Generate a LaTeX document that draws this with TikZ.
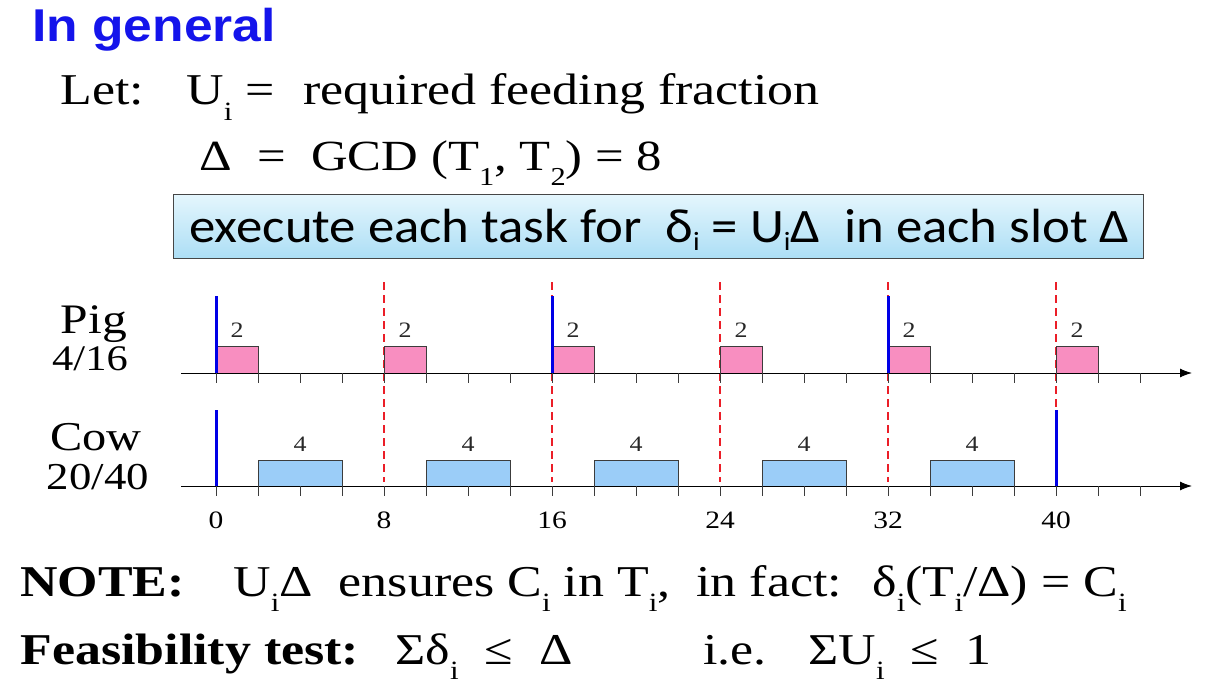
\documentclass[tikz,border=0pt]{standalone}
\usepackage{fontspec}
\setmainfont{Liberation Serif}[FakeStretch=1.18]
\newfontfamily\headfont{Liberation Sans}[FakeStretch=1.12]
\newfontfamily\boxfont{Carlito}[FakeStretch=1.1]
\usetikzlibrary{arrows.meta}
\tikzset{every picture/.style={line width=0.75pt}}
\newcommand{\lo}[1]{\raisebox{-0.36em}{\scalebox{0.6}{#1}}}
\newcommand{\blo}[1]{\raisebox{-0.18em}{\scalebox{0.55}{#1}}}

\begin{document}
\begin{tikzpicture}[x=1pt,y=1pt,yscale=-1,
  txt/.style={inner sep=0pt,anchor=base west},
  big/.style={font=\fontsize{44}{48}\selectfont},
  mid/.style={font=\fontsize{43}{47}\selectfont},
  small/.style={font=\fontsize{25}{28}\selectfont},
  tiny/.style={font=\fontsize{22}{24}\selectfont,color={rgb,255:red,40;green,40;blue,40}},
  rulebox/.style={draw={rgb,255:red,70;green,70;blue,70},line width=1.3pt,top color={rgb,255:red,228;green,246;blue,253},bottom color={rgb,255:red,172;green,222;blue,245}},
  pigslot/.style={draw={rgb,255:red,60;green,60;blue,60},line width=0.9pt,fill={rgb,255:red,248;green,142;blue,192}},
  cowslot/.style={draw={rgb,255:red,60;green,60;blue,60},line width=0.9pt,fill={rgb,255:red,155;green,205;blue,248}},
  release/.style={draw={rgb,255:red,0;green,0;blue,230},line width=3pt},
  frame/.style={draw={rgb,255:red,235;green,30;blue,40},line width=2.4pt,dash pattern=on 8pt off 5pt},
  axis/.style={draw=black,line width=1pt,-{Latex[length=12pt,width=9pt]}},
  tick/.style={draw={rgb,255:red,60;green,60;blue,60},line width=1pt}]
\useasboundingbox (0,0) rectangle (1217,698);

% Title and definitions
\node[txt,font=\headfont\bfseries\fontsize{46}{50}\selectfont,color={rgb,255:red,20;green,20;blue,235}] (head) at (32,42) {In general};
\node[txt,big] (let) at (60,105) {Let:};
\node[txt,big] (ui) at (186,105) {U\lo{i} =};
\node[txt,big] (req) at (303,105) {required feeding fraction};
\node[txt,mid] (gcd) at (199,170) {Δ \ = \ GCD (T\lo{1}, T\lo{2}) = 8};

% Rule box
\node[rulebox,anchor=north west,inner sep=0pt,minimum width=970pt,minimum height=64pt] (rule) at (173,194) {};
\node[txt,font=\boxfont\fontsize{48}{52}\selectfont] (ruletxt) at (189,242) {execute each task for \ δ\blo{i} = U\blo{i}Δ \ in each slot Δ};

% Task names
\node[anchor=base,font=\fontsize{42}{46}\selectfont,inner sep=0pt] (pig) at (94,333) {Pig};
\node[anchor=base,font=\fontsize{36}{40}\selectfont,inner sep=0pt] (pigU) at (90,370) {4/16};
\node[anchor=base,font=\fontsize{41}{45}\selectfont,inner sep=0pt] (cow) at (96,450) {Cow};
\node[anchor=base,font=\fontsize{38}{42}\selectfont,inner sep=0pt] (cowU) at (98,489) {20/40};

% Slots of Delta
\foreach \t in {8,16,...,40}
  \draw[frame] ({216+21*\t},282) -- ({216+21*\t},482);

% Pig schedule
\foreach \t in {0,8,...,40} {
  \draw[pigslot] ({216+21*\t},373) rectangle ({258+21*\t},346);
  \node[tiny,anchor=base,inner sep=0pt] (p\t) at ({237+21*\t},337) {2};
}
% Cow schedule
\foreach \t in {2,10,...,34} {
  \draw[cowslot] ({216+21*\t},486) rectangle ({300+21*\t},460);
  \node[tiny,anchor=base,inner sep=0pt] (c\t) at ({258+21*\t},451) {4};
}

% Axes
\coordinate (pigL) at (181,373);
\coordinate (pigR) at (1192,373);
\coordinate (cowL) at (181,486);
\coordinate (cowR) at (1192,486);
\draw[axis] (pigL) -- (pigR);
\draw[axis] (cowL) -- (cowR);
\foreach \t in {0,2,...,44} {
  \draw[tick] ({216+21*\t},373) -- ({216+21*\t},383);
  \draw[tick] ({216+21*\t},486) -- ({216+21*\t},496);
}
\foreach \t in {0,8,...,40}
  \node[small,anchor=base,inner sep=0pt] (lab\t) at ({216+21*\t},528) {\t};

% Releases
\foreach \t in {0,16,32}
  \draw[release] ({216+21*\t},296) -- ({216+21*\t},373);
\foreach \t in {0,40}
  \draw[release] ({216+21*\t},410) -- ({216+21*\t},486);

% Notes
\node[txt,big] (note) at (20,596) {\bfseries NOTE:};
\node[txt,big] (notebody) at (233,596) {U\lo{i}Δ \ ensures C\lo{i} in T\lo{i}, \ in fact: \ δ\lo{i}(T\lo{i}/Δ) = C\lo{i}};
\node[txt,big] (feas) at (20,664) {\bfseries Feasibility test:};
\node[txt,big] (sumd) at (395,664) {Σδ\lo{i} \ ≤ \ Δ};
\node[txt,big] (ie) at (703,664) {i.e.};
\node[txt,big] (sumu) at (808,664) {ΣU\lo{i} \ ≤ \ 1};
\end{tikzpicture}
\end{document}
